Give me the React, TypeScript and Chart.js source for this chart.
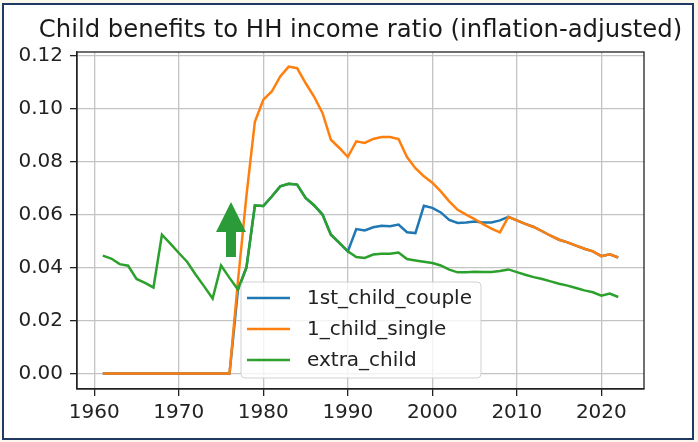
import React, { useEffect, useRef } from "react";
import { Chart, registerables } from "chart.js";

Chart.register(...registerables);

const years = [
  1961, 1962, 1963, 1964, 1965, 1966, 1967, 1968, 1969, 1970,
  1971, 1972, 1973, 1974, 1975, 1976, 1977, 1978, 1979, 1980,
  1981, 1982, 1983, 1984, 1985, 1986, 1987, 1988, 1989, 1990,
  1991, 1992, 1993, 1994, 1995, 1996, 1997, 1998, 1999, 2000,
  2001, 2002, 2003, 2004, 2005, 2006, 2007, 2008, 2009, 2010,
  2011, 2012, 2013, 2014, 2015, 2016, 2017, 2018, 2019, 2020,
  2021, 2022,
];

const firstChildCouple = [
  0, 0, 0, 0, 0, 0, 0, 0, 0, 0,
  0, 0, 0, 0, 0, 0, 0.0317, 0.04, 0.0634, 0.0632,
  0.0668, 0.0706, 0.0716, 0.0713, 0.0663, 0.0635, 0.06, 0.0524, 0.0493, 0.0461,
  0.0545, 0.054, 0.0552, 0.0558, 0.0556, 0.0562, 0.0533, 0.053, 0.0633, 0.0625,
  0.0608, 0.058, 0.0568, 0.057, 0.0574, 0.057, 0.057, 0.0578, 0.0591, 0.0578,
  0.0565, 0.0553, 0.0537, 0.052, 0.0505, 0.0495, 0.0483, 0.0471, 0.0461, 0.0443,
  0.045, 0.0438,
];

const oneChildSingle = [
  0, 0, 0, 0, 0, 0, 0, 0, 0, 0,
  0, 0, 0, 0, 0, 0, 0.035, 0.067, 0.095, 0.1033,
  0.1064, 0.1121, 0.1158, 0.1152, 0.1096, 0.1045, 0.0983, 0.0882, 0.0851, 0.0817,
  0.0876, 0.087, 0.0885, 0.0892, 0.0892, 0.0885, 0.0817, 0.0775, 0.0744, 0.072,
  0.0687, 0.065, 0.0618, 0.06, 0.0583, 0.0564, 0.0547, 0.0533, 0.0591, 0.0578,
  0.0565, 0.0553, 0.0537, 0.052, 0.0505, 0.0495, 0.0483, 0.0471, 0.0461, 0.0443,
  0.045, 0.0438,
];

const extraChild = [
  0.0445, 0.0434, 0.0413, 0.0407, 0.0357, 0.0342, 0.0325, 0.0524, 0.049, 0.0455,
  0.0421, 0.0373, 0.0329, 0.0283, 0.0408, 0.0361, 0.0317, 0.04, 0.0634, 0.0632,
  0.0668, 0.0706, 0.0716, 0.0713, 0.0663, 0.0635, 0.06, 0.0524, 0.0493, 0.0461,
  0.044, 0.0436, 0.0449, 0.0452, 0.0452, 0.0457, 0.0432, 0.0427, 0.0422, 0.0417,
  0.0408, 0.0392, 0.0382, 0.0382, 0.0384, 0.0383, 0.0383, 0.0387, 0.0393, 0.0383,
  0.0373, 0.0364, 0.0357, 0.0348, 0.0339, 0.0332, 0.0323, 0.0314, 0.0307, 0.0294,
  0.0302, 0.0289,
];

const seriesNames = ["1st_child_couple", "1_child_single", "extra_child"];
const titleText = "Child benefits to HH income ratio (inflation-adjusted)";

const FONT = "'DejaVu Sans', sans-serif";
const COLORS = ["#1f77b4", "#ff7f0e", "#2ca02c"];
const TICK_FONT = 20;
const TITLE_FONT = 24.3;

const titlePlugin = {
  id: "mplTitle",
  afterDraw(chart: any) {
    const { ctx, chartArea } = chart;
    ctx.save();
    ctx.fillStyle = "#1a1a1a";
    ctx.font = `${TITLE_FONT}px ${FONT}`;
    ctx.textAlign = "center";
    ctx.textBaseline = "middle";
    ctx.fillText(titleText, (chartArea.left + chartArea.right) / 2, 31);
    ctx.restore();
  },
};

const boxPlugin = {
  id: "mplBox",
  afterDraw(chart: any) {
    const { ctx, chartArea } = chart;
    ctx.save();
    ctx.strokeStyle = "#222";
    ctx.lineWidth = 1.3;
    ctx.strokeRect(chartArea.left, chartArea.top, chartArea.right - chartArea.left, chartArea.bottom - chartArea.top);
    ctx.restore();
  },
};

const legendPlugin = {
  id: "mplLegend",
  afterDraw(chart: any) {
    const { ctx } = chart;
    const x = 241, y = 282, w = 240, h = 96, r = 4;
    ctx.save();
    ctx.beginPath();
    ctx.moveTo(x + r, y);
    ctx.lineTo(x + w - r, y);
    ctx.quadraticCurveTo(x + w, y, x + w, y + r);
    ctx.lineTo(x + w, y + h - r);
    ctx.quadraticCurveTo(x + w, y + h, x + w - r, y + h);
    ctx.lineTo(x + r, y + h);
    ctx.quadraticCurveTo(x, y + h, x, y + h - r);
    ctx.lineTo(x, y + r);
    ctx.quadraticCurveTo(x, y, x + r, y);
    ctx.closePath();
    ctx.fillStyle = "rgba(255,255,255,0.8)";
    ctx.fill();
    ctx.strokeStyle = "rgba(204,204,204,0.9)";
    ctx.lineWidth = 1;
    ctx.stroke();
    chart.data.datasets.forEach((ds: any, i: number) => {
      const cy = 298 + i * 31;
      ctx.beginPath();
      ctx.moveTo(247, cy);
      ctx.lineTo(290, cy);
      ctx.strokeStyle = ds.borderColor;
      ctx.lineWidth = 2.5;
      ctx.stroke();
      ctx.fillStyle = "#222";
      ctx.font = `${TICK_FONT}px ${FONT}`;
      ctx.textBaseline = "middle";
      ctx.textAlign = "left";
      ctx.fillText(ds.label, 307, cy + 1);
    });
    ctx.restore();
  },
};

export default function App() {
  const canvasRef = useRef<HTMLCanvasElement | null>(null);

  useEffect(() => {
    if (!canvasRef.current) return;
    const series = [firstChildCouple, oneChildSingle, extraChild];
    const chart = new Chart(canvasRef.current, {
      type: "line",
      data: {
        datasets: series.map((vals, i) => ({
          label: seriesNames[i],
          data: years.map((yr, k) => ({ x: yr, y: vals[k] })),
          borderColor: COLORS[i],
          backgroundColor: COLORS[i],
          borderWidth: 2.5,
          pointRadius: 0,
          tension: 0,
          fill: false,
          order: 3 - i,
        })),
      },
      options: {
        animation: false,
        responsive: false,
        devicePixelRatio: 1,
        layout: { padding: { left: 0, right: 54, top: 52, bottom: 0 } },
        plugins: {
          legend: { display: false },
          tooltip: { enabled: false },
          title: { display: false },
        },
        scales: {
          x: {
            type: "linear",
            min: 1957.95,
            max: 2025.05,
            afterFit(scale: any) { scale.height = 53; },
            ticks: {
              stepSize: 10,
              includeBounds: false,
              autoSkip: false,
              maxRotation: 0,
              padding: 5,
              color: "#222",
              font: { family: FONT, size: TICK_FONT },
              callback: (v: any) => String(v),
            },
            grid: { color: "#c4c4c4", lineWidth: 1.3, tickColor: "#222", tickLength: 7, drawTicks: true },
            border: { display: true, color: "#222", width: 1.3 },
          },
          y: {
            type: "linear",
            min: -0.0058,
            max: 0.1213,
            afterFit(scale: any) { scale.width = 77; },
            ticks: {
              stepSize: 0.02,
              includeBounds: false,
              padding: 7,
              color: "#222",
              font: { family: FONT, size: TICK_FONT },
              callback: (v: any) => Number(v).toFixed(2),
            },
            grid: { color: "#c4c4c4", lineWidth: 1.3, tickColor: "#222", tickLength: 7, drawTicks: true },
            border: { display: true, color: "#222", width: 1.3 },
          },
        },
      },
      plugins: [titlePlugin, boxPlugin, legendPlugin],
    });
    return () => chart.destroy();
  }, []);

  return (
    <div style={{ position: "fixed", left: 0, top: 0, width: 698, height: 442, background: "#faf7ec", overflow: "hidden" }}>
      <div
        style={{
          position: "absolute",
          left: 2,
          top: 3,
          width: 692,
          height: 437,
          boxSizing: "border-box",
          border: "2px solid #1f3864",
          background: "#ffffff",
        }}
      />
      <canvas
        ref={canvasRef}
        width={698}
        height={442}
        style={{ position: "absolute", left: 0, top: 0, width: 698, height: 442 }}
      />
      <svg
        width={698}
        height={442}
        style={{ position: "absolute", left: 0, top: 0, pointerEvents: "none" }}
      >
        <polygon
          points="231,202 216,232 226,232 226,257 236,257 236,232 246,232"
          fill="#2a9b38"
        />
      </svg>
    </div>
  );
}
